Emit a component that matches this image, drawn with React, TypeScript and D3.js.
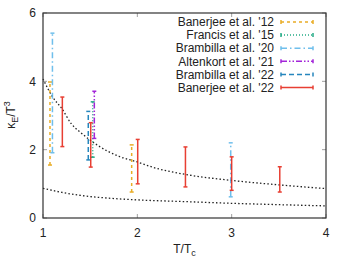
import React from "react";
import * as d3 from "d3";

const W = 354, H = 273;
const M = { left: 43, right: 326, top: 13, bottom: 218 };

const xTicks = [1, 2, 3, 4];
const yTicks = [0, 2, 4, 6];

// Series: x positions, lower and upper ends of error bars
const ban12X = [1.074, 1.94];
const ban12Lo = [1.55, 0.76];
const ban12Hi = [3.98, 2.14];

const fra15X = [1.527];
const fra15Lo = [1.78];
const fra15Hi = [3.4];

const bra20X = [1.1, 2.99];
const bra20Lo = [1.91, 0.62];
const bra20Hi = [5.41, 2.2];

const alt21X = [1.544];
const alt21Lo = [2.33];
const alt21Hi = [3.71];

const bra22X = [1.48];
const bra22Lo = [1.7];
const bra22Hi = [3.12];

const ban22X = [1.205, 1.506, 2.004, 2.51, 3.0, 3.51];
const ban22Lo = [2.09, 1.49, 1.0, 0.91, 0.81, 0.76];
const ban22Hi = [3.54, 2.79, 2.3, 2.08, 1.79, 1.5];

const legendLabels = [
  "Banerjee et al. '12",
  "Francis et al. '15",
  "Brambilla et al. '20",
  "Altenkort et al. '21",
  "Brambilla et al. '22",
  "Banerjee et al. '22",
];

// Dotted curves
const upperX = [1.0, 1.1, 1.2, 1.3, 1.4, 1.5, 1.675, 1.81, 2.0, 2.17, 2.5, 3.0, 3.5, 4.0];
const upperY = [4.07, 3.55, 3.2, 2.76, 2.5, 2.28, 1.97, 1.8, 1.64, 1.48, 1.28, 1.1, 0.97, 0.86];
const lowerX = [1.0, 1.2, 1.4, 1.7, 2.0, 2.5, 3.0, 3.5, 4.0];
const lowerY = [0.87, 0.75, 0.66, 0.58, 0.53, 0.48, 0.43, 0.39, 0.355];

const series = [
  { x: ban12X, lo: ban12Lo, hi: ban12Hi, color: "#e69f00", dash: "3,3" },
  { x: fra15X, lo: fra15Lo, hi: fra15Hi, color: "#009e73", dash: "1,2" },
  { x: bra20X, lo: bra20Lo, hi: bra20Hi, color: "#56b4e9", dash: "6,3,1.5,3" },
  { x: alt21X, lo: alt21Lo, hi: alt21Hi, color: "#9400d3", dash: "6,2,1.5,2,1.5,2" },
  { x: bra22X, lo: bra22Lo, hi: bra22Hi, color: "#0072b2", dash: "5,3" },
  { x: ban22X, lo: ban22Lo, hi: ban22Hi, color: "#e51e10", dash: "none" },
];

export default function App() {
  const x = d3.scaleLinear().domain([1, 4]).range([M.left, M.right]);
  const y = d3.scaleLinear().domain([0, 6]).range([M.bottom, M.top]);
  const line = d3
    .line<[number, number]>()
    .x((d) => x(d[0]))
    .y((d) => y(d[1]))
    .curve(d3.curveMonotoneX);
  const upper = line(upperX.map((v, i) => [v, upperY[i]]) as [number, number][]) || "";
  const lower = line(lowerX.map((v, i) => [v, lowerY[i]]) as [number, number][]) || "";
  const font = "Liberation Sans, Arial, sans-serif";
  const cap = 2;
  const legY0 = 22, legStep = 13.1;

  return (
    <svg
      width={W}
      height={H}
      style={{ position: "absolute", left: 0, top: 0 }}
      fontFamily={font}
    >
      <rect width={W} height={H} fill="#fff" />
      {/* ticks inside, mirrored */}
      {xTicks.map((t) => (
        <g key={"xt" + t} stroke="#a0a0a0" strokeWidth={1}>
          <line x1={x(t)} x2={x(t)} y1={M.bottom} y2={M.bottom - 4} />
          <line x1={x(t)} x2={x(t)} y1={M.top} y2={M.top + 4} />
        </g>
      ))}
      {yTicks.map((t) => (
        <g key={"yt" + t} stroke="#a0a0a0" strokeWidth={1}>
          <line x1={M.left} x2={M.left + 4} y1={y(t)} y2={y(t)} />
          <line x1={M.right} x2={M.right - 4} y1={y(t)} y2={y(t)} />
        </g>
      ))}
      {/* curves */}
      <path d={upper} fill="none" stroke="#222" strokeWidth={1.3} strokeDasharray="1.5,2.2" />
      <path d={lower} fill="none" stroke="#222" strokeWidth={1.3} strokeDasharray="1.5,2.2" />
      {/* error bars */}
      {series.map((s, si) =>
        s.x.map((xv, i) => {
          const px = x(xv);
          return (
            <g key={`s${si}-${i}`} stroke={s.color} strokeWidth={1.5} opacity={0.85}>
              <line x1={px} x2={px} y1={y(s.lo[i])} y2={y(s.hi[i])} strokeDasharray={s.dash} />
              <line x1={px - cap} x2={px + cap} y1={y(s.lo[i])} y2={y(s.lo[i])} />
              <line x1={px - cap} x2={px + cap} y1={y(s.hi[i])} y2={y(s.hi[i])} />
            </g>
          );
        })
      )}
      {/* border */}
      <rect
        x={M.left}
        y={M.top}
        width={M.right - M.left}
        height={M.bottom - M.top}
        fill="none"
        stroke="#333"
        strokeWidth={1.2}
      />
      {/* tick labels */}
      {xTicks.map((t) => (
        <text key={"xl" + t} x={x(t)} y={237} textAnchor="middle" fontSize={12} fill="#222">
          {t}
        </text>
      ))}
      {yTicks.map((t) => (
        <text key={"yl" + t} x={36} y={y(t) + 4.3} textAnchor="end" fontSize={12} fill="#222">
          {t}
        </text>
      ))}
      {/* axis titles */}
      <text x={184.5} y={253} textAnchor="middle" fontSize={12} fill="#222">
        T/T<tspan fontSize={9} dy={3}>c</tspan>
      </text>
      <text
        transform="translate(15,115) rotate(-90)"
        textAnchor="middle"
        fontSize={12}
        fill="#222"
      >
        κ<tspan fontSize={9} dy={3}>E</tspan>
        <tspan dy={-3}>/T</tspan>
        <tspan fontSize={9} dy={-5}>3</tspan>
      </text>
      {/* legend */}
      {legendLabels.map((lab, i) => {
        const s = series[i];
        const ly = legY0 + i * legStep;
        return (
          <g key={"lg" + i}>
            <text x={274} y={ly + 4.2} textAnchor="end" fontSize={12} fill="#222">
              {lab}
            </text>
            <g stroke={s.color} strokeWidth={1.5} opacity={0.85}>
              <line x1={281} x2={313} y1={ly} y2={ly} strokeDasharray={s.dash} />
              <line x1={281} x2={281} y1={ly - cap} y2={ly + cap} />
              <line x1={313} x2={313} y1={ly - cap} y2={ly + cap} />
            </g>
          </g>
        );
      })}
    </svg>
  );
}
